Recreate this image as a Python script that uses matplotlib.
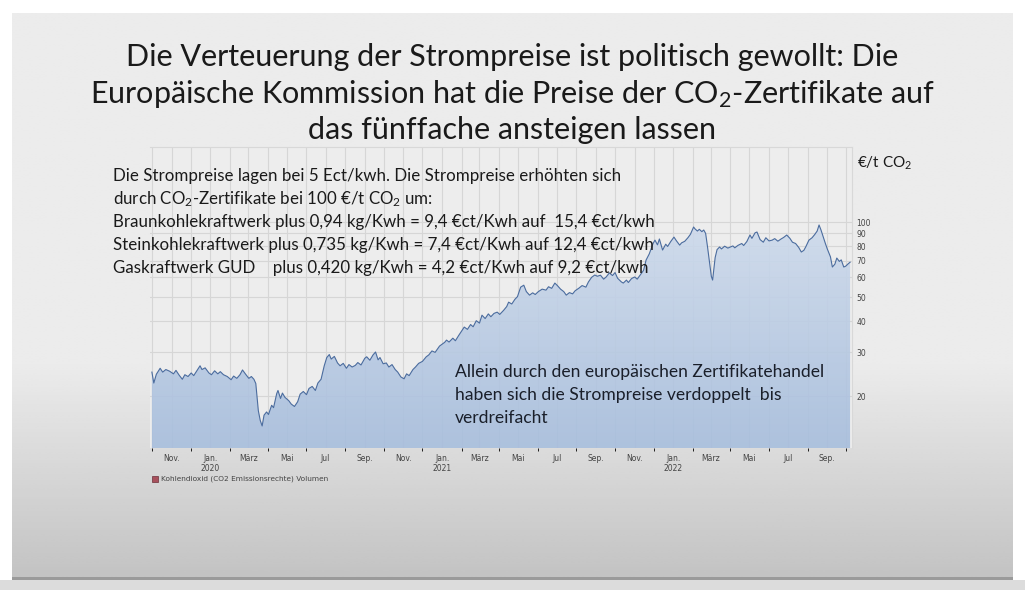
import numpy as np
import pandas as pd
import matplotlib
matplotlib.use("Agg")
import matplotlib.pyplot as plt
import matplotlib.dates as mdates
from matplotlib.ticker import FixedLocator, NullFormatter, FixedFormatter

matplotlib.rcParams.update({
    "font.family": "Lato",
    "mathtext.fontset": "custom",
    "mathtext.rm": "Lato",
    "mathtext.it": "Lato",
})

# ── Daten: CO2-Zertifikatpreis (€/t) ──────────────────────────────────────────
DATES = [
    "2019-10-01", "2019-10-04", "2019-10-08", "2019-10-14", "2019-10-18", "2019-10-23", "2019-10-29",
    "2019-11-04", "2019-11-08", "2019-11-13", "2019-11-18", "2019-11-22", "2019-11-27",
    "2019-12-02", "2019-12-06", "2019-12-10", "2019-12-16", "2019-12-19", "2019-12-24", "2019-12-30",
    "2020-01-03", "2020-01-08", "2020-01-13", "2020-01-17", "2020-01-22", "2020-01-28",
    "2020-02-03", "2020-02-07", "2020-02-12", "2020-02-17", "2020-02-21", "2020-02-26",
    "2020-03-02", "2020-03-06", "2020-03-10", "2020-03-13", "2020-03-17", "2020-03-20", "2020-03-23",
    "2020-03-26", "2020-03-30", "2020-04-02", "2020-04-07", "2020-04-10", "2020-04-15", "2020-04-17",
    "2020-04-21", "2020-04-24", "2020-04-28", "2020-05-04", "2020-05-08", "2020-05-13", "2020-05-18",
    "2020-05-22", "2020-05-27", "2020-06-01", "2020-06-05", "2020-06-10", "2020-06-15", "2020-06-19",
    "2020-06-24", "2020-06-29", "2020-07-03", "2020-07-07", "2020-07-10", "2020-07-15", "2020-07-20",
    "2020-07-24", "2020-07-29", "2020-08-03", "2020-08-07", "2020-08-12", "2020-08-17", "2020-08-21",
    "2020-08-26", "2020-09-01", "2020-09-04", "2020-09-09", "2020-09-14", "2020-09-18", "2020-09-22",
    "2020-09-25", "2020-09-30", "2020-10-05", "2020-10-09", "2020-10-14", "2020-10-19", "2020-10-23",
    "2020-10-28", "2020-11-02", "2020-11-06", "2020-11-10", "2020-11-16", "2020-11-20", "2020-11-25",
    "2020-12-01", "2020-12-07", "2020-12-11", "2020-12-16", "2020-12-21", "2020-12-28",
    "2021-01-05", "2021-01-08", "2021-01-12", "2021-01-18", "2021-01-22", "2021-01-27",
    "2021-02-01", "2021-02-05", "2021-02-10", "2021-02-15", "2021-02-19", "2021-02-24",
    "2021-03-01", "2021-03-05", "2021-03-10", "2021-03-15", "2021-03-19", "2021-03-24", "2021-03-29",
    "2021-04-02", "2021-04-08", "2021-04-13", "2021-04-16", "2021-04-21", "2021-04-26", "2021-04-30",
    "2021-05-05", "2021-05-10", "2021-05-14", "2021-05-19", "2021-05-24", "2021-05-28",
    "2021-06-02", "2021-06-08", "2021-06-14", "2021-06-18", "2021-06-23", "2021-06-28",
    "2021-07-02", "2021-07-07", "2021-07-12", "2021-07-16", "2021-07-21", "2021-07-26", "2021-07-30",
    "2021-08-05", "2021-08-10", "2021-08-16", "2021-08-20", "2021-08-25", "2021-08-30",
    "2021-09-03", "2021-09-08", "2021-09-13", "2021-09-17", "2021-09-22", "2021-09-27",
    "2021-10-01", "2021-10-05", "2021-10-11", "2021-10-14", "2021-10-19", "2021-10-22", "2021-10-27",
    "2021-11-01", "2021-11-05", "2021-11-10", "2021-11-15", "2021-11-19", "2021-11-24", "2021-11-30",
    "2021-12-03", "2021-12-07", "2021-12-10", "2021-12-15", "2021-12-20", "2021-12-23", "2021-12-28",
    "2022-01-02", "2022-01-06", "2022-01-11", "2022-01-14", "2022-01-19", "2022-01-24", "2022-01-28",
    "2022-02-02", "2022-02-04", "2022-02-08", "2022-02-11", "2022-02-15", "2022-02-18", "2022-02-21",
    "2022-02-24", "2022-02-28", "2022-03-02", "2022-03-04", "2022-03-08", "2022-03-11", "2022-03-15",
    "2022-03-18", "2022-03-23", "2022-03-28", "2022-04-01", "2022-04-05", "2022-04-08", "2022-04-13",
    "2022-04-19", "2022-04-22", "2022-04-27", "2022-05-02", "2022-05-05", "2022-05-10", "2022-05-13",
    "2022-05-18", "2022-05-23", "2022-05-27", "2022-06-01", "2022-06-06", "2022-06-10", "2022-06-15",
    "2022-06-20", "2022-06-24", "2022-06-29", "2022-07-04", "2022-07-08", "2022-07-13", "2022-07-18",
    "2022-07-22", "2022-07-26", "2022-07-29", "2022-08-03", "2022-08-08", "2022-08-12", "2022-08-16",
    "2022-08-19", "2022-08-22", "2022-08-25", "2022-08-29", "2022-09-01", "2022-09-06", "2022-09-09",
    "2022-09-13", "2022-09-16", "2022-09-20", "2022-09-23", "2022-09-27", "2022-09-30", "2022-10-04",
    "2022-10-07",
]
PRICES = [
    25.0, 22.6, 24.5, 25.9, 25.0, 25.6, 25.2,
    24.6, 25.4, 24.3, 23.4, 24.4, 24.0,
    24.8, 24.2, 25.1, 26.5, 25.6, 26.0, 24.8,
    24.4, 25.3, 24.6, 25.1, 24.4, 24.0,
    23.3, 24.1, 23.6, 24.4, 25.5, 24.5,
    23.6, 24.0, 23.4, 22.5, 17.5, 16.0, 15.2,
    16.8, 17.3, 16.9, 18.4, 18.0, 20.5, 21.1,
    19.6, 20.6, 19.8, 19.2, 18.6, 18.2, 19.0,
    20.4, 20.9, 20.3, 21.5, 21.9, 21.1, 22.6,
    23.4, 26.5, 28.6, 29.4, 28.2, 28.9, 27.2,
    26.5, 27.1, 25.9, 26.8, 26.2, 26.6, 27.3,
    26.7, 28.4, 28.8, 27.9, 29.3, 30.1, 28.0,
    28.6, 27.0, 27.2, 26.2, 26.8, 25.6, 25.0,
    23.9, 23.5, 24.6, 24.2, 25.6, 26.2, 27.1,
    27.6, 28.8, 29.3, 30.4, 30.0, 31.8,
    32.9, 33.6, 33.0, 34.2, 33.4, 35.0,
    36.6, 37.9, 37.1, 38.8, 38.0, 40.2,
    39.3, 42.3, 41.0, 42.8, 41.7, 43.0, 43.5,
    42.6, 44.2, 45.8, 47.7, 46.9, 49.0, 50.2,
    54.8, 55.8, 52.6, 50.9, 52.0, 51.2,
    52.6, 53.8, 53.3, 55.0, 54.2, 56.9,
    55.6, 53.8, 52.6, 50.9, 52.1, 51.5, 53.0,
    54.3, 55.6, 54.8, 57.5, 60.0, 61.3,
    60.6, 61.2, 59.0, 60.2, 62.5, 61.0,
    62.7, 59.5, 57.5, 56.9, 58.5, 57.2, 59.3,
    60.2, 59.0, 61.5, 64.0, 70.4, 74.5, 82.0,
    84.6, 81.0, 85.5, 77.2, 81.5, 79.8, 83.6,
    87.0, 84.0, 80.8, 82.5, 83.7, 86.5, 89.3,
    95.5, 94.0, 92.0, 93.5, 91.5, 92.9, 90.0,
    79.4, 66.0, 60.5, 58.5, 72.0, 77.5, 79.4,
    78.0, 80.0, 78.6, 79.4, 80.2, 78.8, 80.6,
    82.0, 80.5, 83.5, 88.7, 86.0, 90.5, 91.2,
    85.0, 83.0, 86.5, 84.0, 84.6, 85.8, 83.8,
    85.5, 86.7, 88.7, 86.0, 83.0, 82.0, 79.0,
    75.8, 77.0, 79.5, 84.6, 86.5, 89.0, 92.0,
    97.3, 93.0, 88.0, 82.0, 78.0, 72.5, 66.0,
    67.8, 71.7, 69.5, 70.5, 66.0, 66.5, 68.0,
    69.0,
]

Y_TICKS = [20, 30, 40, 50, 60, 70, 80, 90, 100]
MONTH_LABELS = {1: "Jan.", 3: "März", 5: "Mai", 7: "Jul", 9: "Sep.", 11: "Nov."}

TITLE = ["Die Verteuerung der Strompreise ist politisch gewollt: Die",
         "Europäische Kommission hat die Preise der CO$_2$-Zertifikate auf",
         "das fünffache ansteigen lassen"]
INFO = ["Die Strompreise lagen bei 5 Ect/kwh. Die Strompreise erhöhten sich",
        "durch CO$_2$-Zertifikate bei 100 €/t CO$_2$ um:",
        "Braunkohlekraftwerk plus 0,94 kg/Kwh = 9,4 €ct/Kwh auf  15,4 €ct/kwh",
        "Steinkohlekraftwerk plus 0,735 kg/Kwh = 7,4 €ct/Kwh auf 12,4 €ct/kwh",
        "Gaskraftwerk GUD    plus 0,420 kg/Kwh = 4,2 €ct/Kwh auf 9,2 €ct/kwh"]
NOTE = ["Allein durch den europäischen Zertifikatehandel",
        "haben sich die Strompreise verdoppelt  bis",
        "verdreifacht"]

W, H = 1025, 590
dates = pd.to_datetime(DATES)
prices = np.array(PRICES)


def fx(x):
    return x / W


def fy(y):
    return 1 - y / H


fig = plt.figure(figsize=(W / 100, H / 100), dpi=100)
fig.patch.set_facecolor("white")

# ── Folienhintergrund (Grauverlauf) ───────────────────────────────────────────
bg = fig.add_axes([0, 0, 1, 1], zorder=-10)
bg.set_xlim(0, W)
bg.set_ylim(H, 0)
bg.axis("off")
rows = np.linspace(0, 1, 200)
shade = np.where(rows < 0.62, 0.925, 0.925 - (rows - 0.62) / 0.38 * 0.16)
bg.imshow(np.tile(shade[:, None], (1, 2)), cmap="gray", vmin=0, vmax=1,
          extent=[12, 1013, 577, 13], aspect="auto", interpolation="bilinear")
bg.add_patch(plt.Rectangle((12, 577), 1001, 3, color="#9a9a9a", lw=0))
bg.add_patch(plt.Rectangle((0, 580), W, 10, color="#dcdcdc", lw=0))

# ── Chart ────────────────────────────────────────────────────────────────────
ax = fig.add_axes([fx(150), fy(448), fx(852 - 150), (448 - 147) / H])
ax.set_facecolor("#ededed")
ax.set_yscale("log")
ax.set_ylim(12.4, 200)
ax.set_xlim(pd.Timestamp("2019-09-28"), pd.Timestamp("2022-10-10"))

poly = ax.fill_between(dates, prices, 1, color="none", lw=0, zorder=2)
grad = np.linspace(0, 1, 256)[:, None]
cmap = matplotlib.colors.LinearSegmentedColormap.from_list("fill", ["#dbe4f1", "#a6bddc"])
im = ax.imshow(grad, cmap=cmap, extent=[0, 1, 0, 1], transform=ax.transAxes,
               aspect="auto", zorder=2, alpha=0.9, origin="upper")
im.set_clip_path(poly.get_paths()[0], transform=ax.transData)
ax.plot(dates, prices, color="#4b6c9e", lw=0.8, zorder=3)

# Gitter
month_starts = pd.date_range("2019-10-01", "2022-10-01", freq="MS")
ax.xaxis.set_minor_locator(FixedLocator(mdates.date2num(month_starts)))
label_months = [d for d in month_starts if d.month in MONTH_LABELS and d <= pd.Timestamp("2022-09-01")
                and d >= pd.Timestamp("2019-11-01")]
ax.xaxis.set_major_locator(FixedLocator(mdates.date2num(label_months)))
ax.xaxis.set_major_formatter(FixedFormatter(
    [MONTH_LABELS[d.month] + (f"\n{d.year}" if d.month == 1 else "") for d in label_months]))
ax.xaxis.set_minor_formatter(NullFormatter())
ax.grid(which="both", axis="x", color="#d6d6d6", lw=0.8, zorder=1)
ax.yaxis.tick_right()
ax.yaxis.set_major_locator(FixedLocator(Y_TICKS))
ax.yaxis.set_major_formatter(FixedFormatter([str(v) for v in Y_TICKS]))
ax.yaxis.set_minor_locator(FixedLocator([]))
ax.grid(which="major", axis="y", color="#d6d6d6", lw=0.8, zorder=1)
ax.tick_params(axis="both", length=0, labelsize=5.5, colors="#444444", labelfontfamily="DejaVu Sans")
ax.tick_params(axis="x", pad=4)
ax.tick_params(axis="y", pad=3)
for s in ["left", "bottom"]:
    ax.spines[s].set_visible(False)
for s in ["top", "right"]:
    ax.spines[s].set_color("#d8d8d8")
    ax.spines[s].set_linewidth(0.8)

# Legende unten
fig.patches.append(plt.Rectangle((fx(152), fy(482)), 6 / W, 6 / H, transform=fig.transFigure,
                                 facecolor="#a8505c", edgecolor="#6b3038", lw=0.5))
fig.text(fx(161), fy(479), "Kohlendioxid (CO2 Emissionsrechte) Volumen", fontsize=5.3,
         family="DejaVu Sans", color="#444444", va="center")

# ── Texte ────────────────────────────────────────────────────────────────────
for i, line in enumerate(TITLE):
    fig.text(fx(512), fy(57 + i * 36.5), line, fontsize=22, ha="center", va="center", color="#1a1a1a")

for i, line in enumerate(INFO):
    fig.text(fx(113), fy(176 + i * 23), line, fontsize=12.2, ha="left", va="center", color="#1a1a1a")

fig.text(fx(857), fy(163), "€/t CO$_2$", fontsize=11, ha="left", va="center", color="#1a1a1a")

for i, line in enumerate(NOTE):
    fig.text(fx(455), fy(372 + i * 23), line, fontsize=12.6, ha="left", va="center", color="#1a1f2a")

fig.savefig("out.png", dpi=100)
